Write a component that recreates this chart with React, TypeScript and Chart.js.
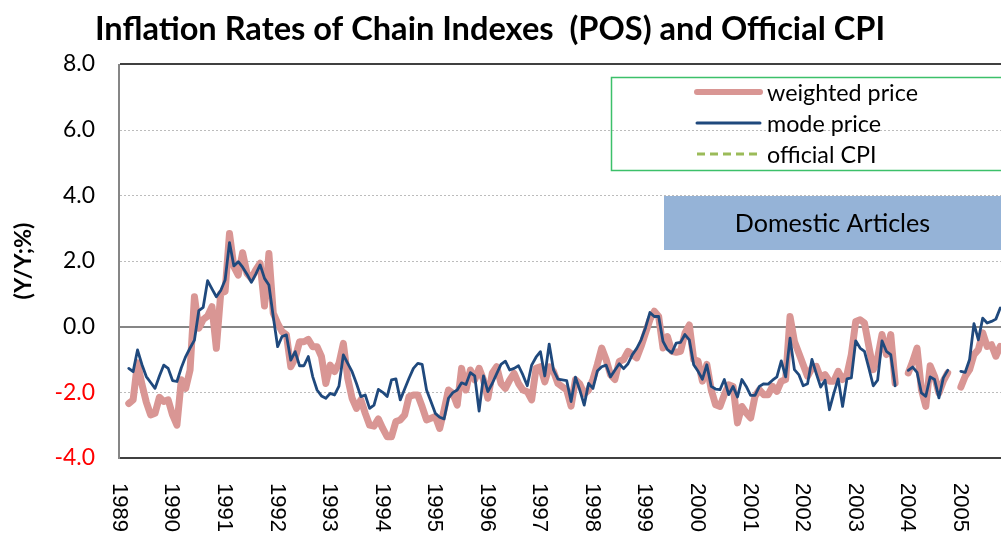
import React, { useEffect, useRef } from 'react';
import { Chart, registerables } from 'chart.js';

Chart.register(...registerables);

const TITLE = 'Inflation Rates of Chain Indexes  (POS) and Official CPI';
const Y_TITLE = '(Y/Y;%)';
const BOX_TEXT = 'Domestic Articles';

const years = [1989, 1990, 1991, 1992, 1993, 1994, 1995, 1996, 1997, 1998, 1999, 2000, 2001, 2002, 2003, 2004, 2005];
const months = ['01', '02', '03', '04', '05', '06', '07', '08', '09', '10', '11', '12'];
const categories = years.flatMap((y) => months.map((m) => `${y}/${m}`));
const yearLabels = years.map(String);
const yTicks = [-4, -2, 0, 2, 4, 6, 8];

const seriesNames = ['weighted price', 'mode price', 'official CPI'];

const weightedPrice: (number | null)[] = [
  null, null, -2.34, -2.23, -1.10, -1.75, -2.30, -2.69, -2.64, -2.15, -2.28, -2.23,
  -2.69, -3.00, -1.62, -1.88, -1.32, 0.91, -0.05, 0.22, 0.32, 0.61, -0.66, 1.02,
  1.07, 2.84, 1.83, 1.57, 2.25, 1.62, 1.47, 1.73, 1.93, 0.63, 2.23, 0.41,
  0.10, -0.15, -0.25, -1.22, -0.96, -0.46, -0.46, -0.39, -0.61, -0.61, -0.91, -1.73,
  -1.17, -1.37, -1.12, -0.51, -1.57, -2.18, -2.49, -2.23, -2.64, -3.00, -3.03, -2.81,
  -3.10, -3.35, -3.35, -2.89, -2.84, -2.69, -2.13, -2.08, -2.08, -2.44, -2.84, -2.79,
  -2.74, -3.10, -2.54, -1.93, -2.03, -2.39, -1.27, -1.93, -1.32, -1.62, -1.27, -1.62,
  -2.18, -1.42, -1.22, -1.73, -1.88, -1.62, -1.42, -1.73, -1.93, -1.98, -2.23, -1.27,
  -1.22, -1.68, -1.22, -1.37, -1.73, -1.83, -1.93, -2.42, -1.62, -1.75, -2.05, -1.93,
  -1.60, -1.15, -0.65, -1.00, -1.46, -1.61, -1.06, -1.00, -0.75, -0.85, -0.95, -0.60,
  -0.19, 0.21, 0.47, 0.31, -0.65, -0.30, -0.75, -0.78, -0.75, -0.20, 0.05, -1.00,
  -1.05, -1.66, -1.15, -1.92, -2.38, -2.43, -2.07, -1.77, -1.82, -2.93, -2.43, -2.63,
  -2.78, -2.12, -1.92, -2.07, -2.07, -1.82, -1.97, -1.66, -1.61, 0.31, -0.45, -0.80,
  -1.16, -1.51, -1.26, -1.21, -1.56, -1.46, -1.66, -1.66, -1.36, -1.61, -1.46, -0.85,
  0.16, 0.21, 0.11, -0.60, -1.31, -0.95, -0.24, -0.85, -0.24, -1.72, null, null,
  -1.41, -1.06, -0.65, -1.92, -2.43, -1.19, -1.51, -2.02, -1.66, -1.41, null, null,
  -1.84, -1.51, -1.31, -0.85, -0.70, -0.19, -0.60, -0.55, -0.90, -0.60, null, null,
];

const modePrice: (number | null)[] = [
  null, null, -1.27, -1.37, -0.71, -1.15, -1.52, -1.70, -1.88, -1.50, -1.17, -1.27,
  -1.64, -1.67, -1.25, -0.91, -0.65, -0.41, 0.49, 0.59, 1.40, 1.15, 0.91, 1.10,
  1.42, 2.56, 1.85, 1.98, 1.81, 1.60, 1.35, 1.60, 1.88, 1.47, 1.27, 0.30,
  -0.61, -0.30, -0.25, -1.02, -0.76, -1.19, -1.19, -0.91, -1.52, -1.93, -2.11, -2.18,
  -2.03, -2.08, -1.81, -0.86, -1.12, -1.37, -1.73, -2.13, -2.08, -2.49, -2.39, -1.91,
  -2.00, -2.13, -1.62, -1.59, -2.23, -1.90, -1.57, -1.27, -1.12, -1.15, -1.93, -2.28,
  -2.64, -2.76, -2.81, -2.18, -2.01, -1.93, -1.71, -1.76, -1.40, -1.50, -2.57, -1.50,
  -1.98, -1.73, -1.44, -1.15, -1.05, -1.32, -1.27, -1.19, -1.47, -1.80, -1.17, -0.93,
  -0.76, -1.50, -0.53, -1.32, -1.60, -1.62, -1.64, -2.28, -1.54, -1.93, -2.39, -1.73,
  -1.88, -1.35, -1.22, -1.17, -1.53, -1.33, -1.13, -1.28, -1.13, -0.85, -0.66, -0.40,
  -0.03, 0.43, 0.31, 0.31, -0.45, -0.70, -0.80, -0.50, -0.48, -0.24, -0.40, -1.16,
  -1.36, -1.60, -1.16, -1.82, -1.90, -1.92, -1.61, -2.07, -1.82, -2.14, -1.61, -1.82,
  -2.09, -2.09, -1.82, -1.74, -1.75, -1.63, -1.53, -1.04, -1.53, -0.35, -1.31, -1.46,
  -1.80, -1.74, -1.00, -1.43, -1.84, -1.63, -2.53, -2.03, -1.59, -2.43, -1.59, -1.56,
  -0.43, -0.65, -0.75, -1.26, -1.80, -1.63, -0.43, -0.75, -0.85, -1.80, null, null,
  -1.33, -1.23, -1.39, -2.02, -2.12, -1.53, -1.61, -2.17, -1.56, -1.33, null, null,
  -1.36, -1.39, -1.00, 0.09, -0.40, 0.26, 0.11, 0.16, 0.23, 0.57, null, null,
];

const officialCPI: (number | null)[] = [];

const COLORS = { weighted: '#d99694', mode: '#1f497d', cpi: '#9bbb59' };
const SANS = 'Lato, "Open Sans", sans-serif';
const ARIAL = '"Liberation Sans", Arial, sans-serif';

function fitSize(text: string, weight: string, family: string, target: number): number {
  const c = document.createElement('canvas').getContext('2d') as CanvasRenderingContext2D;
  c.font = `${weight} 100px ${family}`;
  const w = c.measureText(text).width || 100;
  return Math.round((100 * target) / w * 10) / 10;
}

export default function App() {
  const ref = useRef<HTMLCanvasElement | null>(null);

  useEffect(() => {
    const canvas = ref.current;
    if (!canvas) return;

    const tickSize = fitSize('8.0', 'normal', SANS, 32);
    const titleSize = fitSize(TITLE, 'bold', SANS, 790);
    const yTitleSize = fitSize(Y_TITLE, 'bold', SANS, 77);
    const yearSize = fitSize('1989', 'normal', ARIAL, 49);
    const legendSize = fitSize('weighted price', 'normal', SANS, 151);
    const boxSize = fitSize(BOX_TEXT, 'normal', SANS, 195);

    const deco = {
      id: 'deco',
      beforeDatasetsDraw(chart: any) {
        const { ctx, chartArea: a, scales } = chart;
        const y = scales.y;
        ctx.save();
        ctx.strokeStyle = '#bcbcbc';
        ctx.lineWidth = 1;
        ctx.setLineDash([2, 2]);
        for (const v of yTicks) {
          if (v === 0 || v === y.min || v === y.max) continue;
          const py = Math.round(y.getPixelForValue(v)) + 0.5;
          ctx.beginPath();
          ctx.moveTo(a.left, py);
          ctx.lineTo(a.right, py);
          ctx.stroke();
        }
        ctx.setLineDash([]);
        const z = Math.round(y.getPixelForValue(0));
        ctx.strokeStyle = '#868686';
        ctx.lineWidth = 2;
        ctx.beginPath();
        ctx.moveTo(a.left, z);
        ctx.lineTo(a.right, z);
        ctx.stroke();
        ctx.strokeStyle = '#404040';
        ctx.lineWidth = 2;
        ctx.beginPath();
        ctx.moveTo(a.left, Math.round(a.top));
        ctx.lineTo(a.right, Math.round(a.top));
        ctx.moveTo(a.left, Math.round(a.bottom));
        ctx.lineTo(a.right, Math.round(a.bottom));
        ctx.stroke();
        ctx.strokeStyle = '#868686';
        ctx.beginPath();
        ctx.moveTo(a.left - 1, a.top);
        ctx.lineTo(a.left - 1, a.bottom + 1);
        ctx.stroke();
        ctx.restore();
      },
      afterDraw(chart: any) {
        const { ctx, chartArea: a, scales } = chart;
        const x = scales.x;
        ctx.save();
        // title
        ctx.fillStyle = '#000';
        ctx.font = `bold ${titleSize}px ${SANS}`;
        ctx.textAlign = 'center';
        ctx.textBaseline = 'middle';
        ctx.fillText(TITLE, 490, 29);
        // y title
        ctx.save();
        ctx.translate(23, (a.top + a.bottom) / 2);
        ctx.rotate(-Math.PI / 2);
        ctx.font = `bold ${yTitleSize}px ${SANS}`;
        ctx.fillText(Y_TITLE, 0, 0);
        ctx.restore();
        // x labels
        ctx.font = `${yearSize}px ${ARIAL}`;
        ctx.textAlign = 'left';
        ctx.textBaseline = 'middle';
        yearLabels.forEach((lab, k) => {
          const px = x.getPixelForValue(k * 12);
          ctx.save();
          ctx.translate(px - 1, 483);
          ctx.rotate(Math.PI / 2);
          ctx.fillText(lab, 0, 0);
          ctx.restore();
        });
        // legend
        ctx.strokeStyle = '#3cc06a';
        ctx.lineWidth = 1.5;
        ctx.strokeRect(611.5, 77.5, 520, 93);
        const rows = [92, 123, 154];
        const ds = chart.data.datasets;
        rows.forEach((ry, k) => {
          const d = ds[k];
          ctx.save();
          ctx.strokeStyle = d.borderColor;
          ctx.lineWidth = k === 0 ? 6 : 3;
          ctx.lineCap = k === 2 ? 'butt' : 'round';
          ctx.setLineDash(d.borderDash || []);
          ctx.beginPath();
          ctx.moveTo(697, ry);
          ctx.lineTo(760, ry);
          ctx.stroke();
          ctx.restore();
          ctx.fillStyle = '#000';
          ctx.font = `${legendSize}px ${SANS}`;
          ctx.textAlign = 'left';
          ctx.textBaseline = 'middle';
          ctx.fillText(d.label, 767, ry + 1);
        });
        // domestic box
        ctx.fillStyle = '#95b3d7';
        ctx.fillRect(664, 196, 400, 54);
        ctx.fillStyle = '#000';
        ctx.font = `${boxSize}px ${SANS}`;
        ctx.textAlign = 'center';
        ctx.textBaseline = 'middle';
        ctx.fillText(BOX_TEXT, 832.5, 224);
        ctx.restore();
      },
    };

    const chart = new Chart(canvas, {
      type: 'line',
      data: {
        labels: categories,
        datasets: [
          {
            label: seriesNames[0],
            data: weightedPrice,
            borderColor: COLORS.weighted,
            borderWidth: 7,
            pointRadius: 0,
            tension: 0,
            spanGaps: false,
            borderJoinStyle: 'round',
            borderCapStyle: 'round',
            order: 2,
          },
          {
            label: seriesNames[1],
            data: modePrice,
            borderColor: COLORS.mode,
            borderWidth: 2.8,
            pointRadius: 0,
            tension: 0,
            spanGaps: false,
            borderJoinStyle: 'round',
            borderCapStyle: 'round',
            order: 1,
          },
          {
            label: seriesNames[2],
            data: officialCPI,
            borderColor: COLORS.cpi,
            borderWidth: 3,
            borderDash: [8, 5],
            pointRadius: 0,
            order: 0,
          },
        ],
      },
      options: {
        responsive: false,
        animation: false,
        devicePixelRatio: 1,
        layout: { padding: { top: 64, right: 3, bottom: 0, left: 0 } },
        plugins: {
          legend: { display: false },
          title: { display: false },
          tooltip: { enabled: false },
        },
        scales: {
          x: {
            type: 'category',
            offset: false,
            grid: { display: false },
            border: { display: false },
            ticks: { display: false },
            afterFit: (s: any) => {
              s.height = 78;
            },
          },
          y: {
            min: -4,
            max: 8,
            grid: { display: false, drawTicks: false },
            border: { display: false },
            ticks: {
              stepSize: 2,
              padding: 25,
              font: { family: SANS, size: tickSize },
              color: (c: any) => (c.tick && c.tick.value < 0 ? '#ff0000' : '#000000'),
              callback: (v: any) => Number(v).toFixed(1),
            },
            afterFit: (s: any) => {
              s.width = 120;
            },
          },
        },
      },
      plugins: [deco],
    } as any);

    return () => chart.destroy();
  }, []);

  return (
    <div
      style={{
        position: 'fixed',
        left: 0,
        top: 0,
        width: 1001,
        height: 536,
        overflow: 'hidden',
        background: '#ffffff',
      }}
    >
      <canvas ref={ref} width={1012} height={536} style={{ display: 'block', width: 1012, height: 536 }} />
    </div>
  );
}
